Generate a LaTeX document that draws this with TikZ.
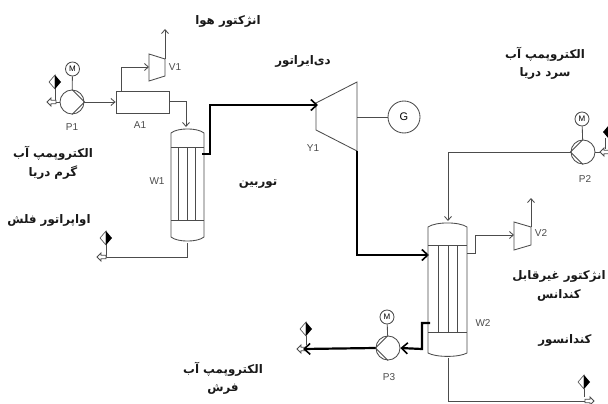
\documentclass[tikz,border=0pt]{standalone}
\usepackage{fontspec}
\usetikzlibrary{arrows.meta}
\TeXXeTstate=1
\newfontfamily\arabicfont[Script=Arabic]{DejaVu Sans}
\setsansfont{Liberation Sans}
\definecolor{ln}{gray}{0.3}
\tikzset{
 x=1pt,y=-1pt,
 ln/.style={draw=ln,line width=0.85pt},
 flow/.style={ln,-{Straight Barb[length=4pt,width=7pt]}},
 heavy/.style={draw=black,line width=2.2pt,-{Straight Barb[length=6pt,width=11pt,line width=1.6pt]}},
 tag/.style={font=\sffamily\fontsize{10}{12}\selectfont,text=black!70,inner sep=0pt},
 fa/.style={font=\arabicfont\bfseries\fontsize{11.8}{13}\selectfont,align=center,inner sep=0pt,text=black!90},
 round/.style={circle,ln,minimum size=14pt,inner sep=0pt,font=\sffamily\fontsize{8}{9}\selectfont},
 pumpc/.style={circle,ln,minimum size=24pt,inner sep=0pt},
}
\newcommand{\valveport}[2]{% x,y of diamond
 \fill[white,draw=ln,line width=.6pt] (#1-6,#2) -- (#1,#2-7) -- (#1,#2+7) -- cycle;
 \fill[black] (#1+6,#2) -- (#1,#2-7) -- (#1,#2+7) -- cycle;
}
\newcommand{\portarrow}[3]{% tip x, y, dir
 \draw[ln,fill=white] (#1,#2) -- ++(#3*4,-4) -- ++(0,2.2) -- ++(#3*5,0) -- ++(0,3.6) -- ++(-#3*5,0) -- ++(0,2.2) -- cycle;
}
\newcommand{\vessel}[8]{% l r apex shoulder tubetop tubebot botshoulder botapex
 \draw[ln] (#1,#6) -- (#1,#4) .. controls ({#1+(#2-#1)*.2},{#3+(#4-#3)*.1}) and ({#2-(#2-#1)*.2},{#3+(#4-#3)*.1}) .. (#2,#4) -- (#2,#7)
  .. controls ({#2-(#2-#1)*.2},{#8-(#8-#7)*.1}) and ({#1+(#2-#1)*.2},{#8-(#8-#7)*.1}) .. (#1,#7) -- cycle;
 \draw[ln] (#1,#5) -- (#2,#5) (#1,#6) -- (#2,#6);
}
\begin{document}
\begin{tikzpicture}
\useasboundingbox (0,0) rectangle (608,404);
\fill[white] (0,0) rectangle (608,404);

% P1
\node[pumpc] (p1) at (72,102) {};
\node[round] (m1) at (72.5,69) {M};
\draw[ln] (m1) -- (p1);
\draw[ln] (p1.north) -- (p1.east) -- (p1.south);
\portarrow{47}{102}{1}
\coordinate (p1in) at (56,102);
\draw[ln] (p1in) -- (p1.west);
\draw[ln] (55,88) -- (55,100);
\valveport{55}{82}
% A1
\node[draw=ln,line width=.85pt,minimum width=53pt,minimum height=22pt,inner sep=0pt] (a1) at (142.5,102) {};
\draw[flow] (p1.east) -- (a1.west);
% V1
\draw[ln] (149,54) -- (165,59) -- (165,76) -- (149,81) -- cycle;
\coordinate (v1in) at (149,67);
\coordinate (v1out) at (165,59);
\coordinate (v1top) at (165,29);
\coordinate (a1up) at (121,91);
\draw[flow] (a1up) |- (v1in);
\draw[flow] (v1out) -- (v1top);
% W1
\vessel{171}{204}{127}{133}{147}{220}{237}{243}
\draw[ln] (178,147) -- (178,220) (187,147) -- (187,220) (195,147) -- (195,220);
\coordinate (w1top) at (186,127);
\coordinate (a1out) at (169,101);
\draw[flow] (a1out) -| (w1top);
\coordinate (w1bot) at (187,243);
\coordinate (w1port) at (106,257);
\draw[ln] (w1bot) |- (w1port);
\draw[ln] (106,244) -- (w1port);
\portarrow{97}{257}{1}
\valveport{106}{238}
% Y1
\draw[ln] (316,103) -- (357,82) -- (357,151) -- (316,130) -- cycle;
\node[circle,ln,minimum size=32pt,inner sep=0pt,font=\sffamily\fontsize{11}{12}\selectfont] (g) at (404,117) {G};
\coordinate (y1shaft) at (357,117);
\draw[ln] (y1shaft) -- (g);
% thick steam
\coordinate (w1side) at (202,154);
\coordinate (y1in) at (318,105);
\draw[heavy] (w1side) -- (210,154) -- (210,105) -- (y1in);
\coordinate (y1out) at (357,151);
\coordinate (w2in) at (429,255);
\draw[heavy] (y1out) |- (w2in);
% W2
\vessel{428}{467}{221}{227}{245}{332}{353}{358}
\draw[ln] (438,245) -- (438,332) (448,245) -- (448,332) (457,245) -- (457,332);
% P2
\node[pumpc] (p2) at (583,152) {};
\node[round] (m2) at (582,119) {M};
\draw[ln] (m2) -- (p2);
\draw[ln] (p2.north) -- (p2.west) -- (p2.south);
\coordinate (w2top) at (448,221);
\draw[flow] (p2.west) -| (w2top);
\coordinate (p2in) at (600,152);
\draw[ln] (p2.east) -- (p2in);
\portarrow{600}{152}{1}
\draw[ln] (605,138) -- (605,149);
\fill[black] (603,132) -- (609,125) -- (609,139) -- cycle;
% V2
\draw[ln] (514,222) -- (531,227) -- (531,245) -- (514,250) -- cycle;
\coordinate (v2in) at (514,235);
\coordinate (w2side) at (467,253);
\draw[flow] (w2side) -- (475,253) -- (475,235) -- (v2in);
\coordinate (v2out) at (531,227);
\coordinate (v2top) at (531,198);
\draw[flow] (v2out) -- (v2top);
% P3
\node[pumpc] (p3) at (388,348) {};
\node[round] (m3) at (387,317) {M};
\draw[ln] (m3) -- (p3);
\draw[ln] (p3.north) -- (p3.west) -- (p3.south);
\coordinate (w2side2) at (430,323);
\draw[heavy] (w2side2) -- (422,323) -- (422,349) -- (p3.east);
\coordinate (p3out) at (303,349);
\portarrow{297}{349}{1}
\draw[heavy] (p3.west) -- (p3out);
\draw[ln] (306,336) -- (306,345);
\valveport{306}{329}
% W2 bottom
\coordinate (w2bot) at (448,358);
\coordinate (w2port) at (585,401);
\draw[ln] (w2bot) |- (w2port);
\draw[ln] (584,389) -- (584,397);
\portarrow{594}{401}{-1}
\valveport{584}{382}

% tags
\node[tag] (tp1) at (72,127) {P1};
\node[tag] (ta1) at (140,125) {A1};
\node[tag] (tv1) at (175,67) {V1};
\node[tag] (tw1) at (157,181) {W1};
\node[tag] (ty1) at (313,148) {Y1};
\node[tag] (tp2) at (585,179) {P2};
\node[tag] (tv2) at (541,233) {V2};
\node[tag] (tw2) at (483,323) {W2};
\node[tag] (tp3) at (389,377) {P3};

% Persian
\node[fa] (f1) at (228,21) {\beginR انژکتور هوا\endR};
\node[fa] (f2) at (303,61) {\beginR دی‌ایراتور\endR};
\node[fa] (f3) at (545,54) {\beginR الکتروپمپ آب\endR};
\node[fa] (f4) at (545,73) {\beginR سرد دریا\endR};
\node[fa] (f5) at (53,153) {\beginR الکتروپمپ آب\endR};
\node[fa] (f6) at (53,173) {\beginR گرم دریا\endR};
\node[fa] (f7) at (49,220) {\beginR اواپراتور فلش\endR};
\node[fa] (f8) at (258,184) {\beginR توربین\endR};
\node[fa] (f9) at (559,276) {\beginR انژکتور غیرقابل\endR};
\node[fa] (f10) at (559,295) {\beginR کندانس\endR};
\node[fa] (f11) at (565,340) {\beginR کندانسور\endR};
\node[fa] (f12) at (223,369) {\beginR الکتروپمپ آب\endR};
\node[fa] (f13) at (223,389) {\beginR فرش\endR};
\end{tikzpicture}
\end{document}
